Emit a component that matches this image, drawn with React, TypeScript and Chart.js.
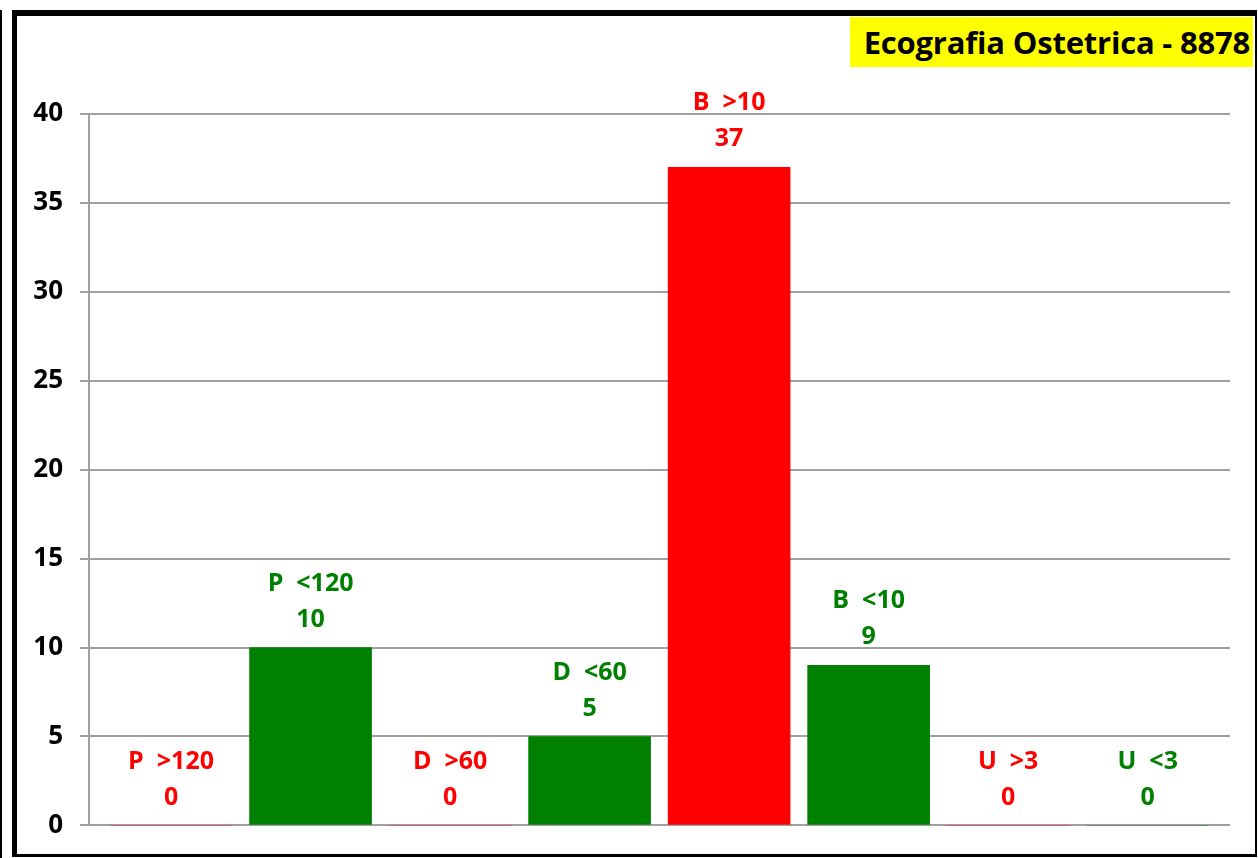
import React, { useEffect, useRef } from "react";
import { Chart, registerables } from "chart.js";

Chart.register(...registerables);

const categories = ["P  >120", "P  <120", "D  >60", "D  <60", "B  >10", "B  <10", "U  >3", "U  <3"];
const values = [0, 10, 0, 5, 37, 9, 0, 0];
const barColors = ["#FF0000", "#008000", "#FF0000", "#008000", "#FF0000", "#008000", "#FF0000", "#008000"];
const yTicks = [0, 5, 10, 15, 20, 25, 30, 35, 40];
const titleText = "Ecografia Ostetrica - 8878";

const FONT = "'Open Sans', sans-serif";

const labelPlugin = {
  id: "barLabels",
  afterDatasetsDraw(chart: any) {
    const ctx = chart.ctx;
    const meta = chart.getDatasetMeta(0);
    ctx.save();
    ctx.font = `bold 25px ${FONT}`;
    ctx.textAlign = "center";
    ctx.textBaseline = "middle";
    meta.data.forEach((bar: any, i: number) => {
      ctx.fillStyle = barColors[i];
      ctx.fillText(String(values[i]), bar.x, bar.y - 28);
      ctx.fillText(categories[i], bar.x, bar.y - 64);
    });
    ctx.restore();
  },
};

export default function App() {
  const ref = useRef<HTMLCanvasElement>(null);
  useEffect(() => {
    const chart = new Chart(ref.current as HTMLCanvasElement, {
      type: "bar",
      data: {
        datasets: [
          {
            data: values.map((v, i) => ({ x: i, y: v })),
            backgroundColor: barColors,
            barThickness: 122,
            borderWidth: 0,
          },
        ],
      },
      options: {
        animation: false,
        responsive: false,
        maintainAspectRatio: false,
        layout: { padding: { left: 17, right: 28, top: 114, bottom: 32 } },
        plugins: { legend: { display: false }, tooltip: { enabled: false }, title: { display: false } },
        scales: {
          x: {
            type: "linear",
            min: -0.588,
            max: 7.59,
            offset: false,
            display: false,
            afterFit: (a: any) => { a.height = 0; },
          },
          y: {
            min: 0,
            max: 40,
            afterBuildTicks: (a: any) => { a.ticks = yTicks.map((v) => ({ value: v })); },
            afterFit: (a: any) => { a.width = 72; },
            grid: { color: "#A0A0A0", lineWidth: 2, tickLength: 9, drawTicks: true },
            border: { display: true, color: "#A0A0A0", width: 2 },
            ticks: { color: "#000", font: { family: FONT, weight: "bold", size: 26 }, padding: 17 },
          },
        },
      },
      plugins: [labelPlugin],
    });
    return () => chart.destroy();
  }, []);

  return (
    <div style={{ position: "fixed", left: 0, top: 0, width: 1258, height: 858, background: "#fff", overflow: "hidden" }}>
      <div style={{ position: "absolute", left: 0, top: 10, width: 2, height: 848, background: "#000" }} />
      <canvas ref={ref} width={1258} height={858} style={{ position: "absolute", left: 0, top: 0 }} />
      <div
        style={{
          position: "absolute",
          left: 12,
          top: 10,
          width: 1245,
          height: 847,
          boxSizing: "border-box",
          borderLeft: "5px solid #000",
          borderTop: "6px solid #000",
          borderRight: "2px solid #000",
          borderBottom: "3px solid #000",
          pointerEvents: "none",
        }}
      />
      <div
        style={{
          position: "absolute",
          left: 850,
          top: 17,
          width: 403,
          height: 50,
          background: "#FFFF00",
          fontFamily: FONT,
          fontWeight: "bold",
          fontSize: 31,
          lineHeight: "50px",
          textAlign: "right",
          paddingRight: 3,
          boxSizing: "border-box",
          color: "#000",
          whiteSpace: "nowrap",
          letterSpacing: -0.2,
        }}
      >
        {titleText}
      </div>
    </div>
  );
}
